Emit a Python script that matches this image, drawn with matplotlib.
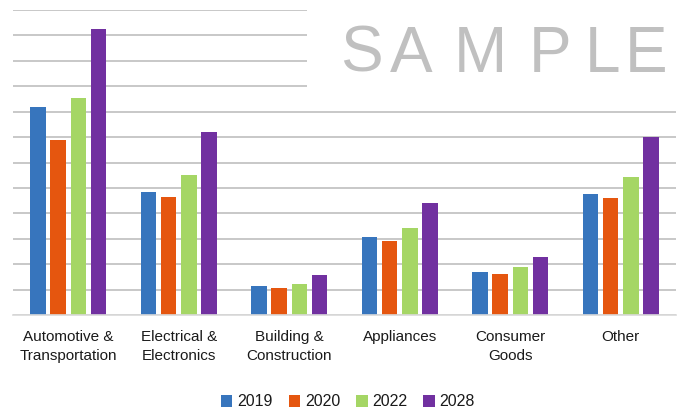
import matplotlib.pyplot as plt
import numpy as np
from matplotlib.patches import Rectangle

plt.rcParams['font.family'] = ['Liberation Sans', 'DejaVu Sans']

categories = ['Automotive &\nTransportation', 'Electrical &\nElectronics', 'Building &\nConstruction',
              'Appliances', 'Consumer\nGoods', 'Other']
years = ['2019', '2020', '2022', '2028']
v2019 = [8.19, 4.82, 1.14, 3.06, 1.69, 4.76]
v2020 = [6.89, 4.65, 1.06, 2.93, 1.61, 4.61]
v2022 = [8.52, 5.51, 1.23, 3.43, 1.88, 5.41]
v2028 = [11.26, 7.20, 1.57, 4.40, 2.27, 7.02]
colors = ['#3775BD', '#E5560F', '#A5D665', '#7130A0']

W, H = 680, 409
fig = plt.figure(figsize=(6.8, 4.09), dpi=100)
ax = fig.add_axes([13 / W, 1 - 315 / H, (676 - 13) / W, (315 - 10) / H])

x = np.arange(len(categories))
pitch = 0.183
for i, (vals, c) in enumerate(zip([v2019, v2020, v2022, v2028], colors)):
    ax.bar(x + (i - 1.5) * pitch, vals, width=0.139, color=c, label=years[i], zorder=3)

ax.set_xlim(-0.5, 5.5)
ax.set_ylim(0, 12)
ax.set_yticks(np.arange(0, 13, 1))
ax.yaxis.grid(True, color='#BFBFBF', linewidth=1.2, zorder=0)
ax.set_axisbelow(True)
ax.tick_params(axis='y', left=False, labelleft=False)
ax.tick_params(axis='x', length=0, pad=11, labelsize=11, labelcolor='#1a1a1a')
ax.set_xticks(x)
ax.set_xticklabels(categories, linespacing=1.4)
for s in ['left', 'right', 'top']:
    ax.spines[s].set_visible(False)
ax.spines['bottom'].set_color('#D9D9D9')
ax.spines['bottom'].set_linewidth(1.2)
ax.spines['bottom'].set_zorder(4)

# watermark box and letters
fig.patches.append(Rectangle((307 / W, 1 - 98 / H), (W - 307) / W, 98 / H,
                             transform=fig.transFigure, facecolor='white', edgecolor='none', zorder=5))
letters = ['S', 'A', 'M', 'P', 'L', 'E']
letter_cx = [361, 411, 480, 550, 603, 646]
for ch, lx in zip(letters, letter_cx):
    fig.text(lx / W, 1 - 72 / H, ch, fontsize=46, color='#C0C0C0', ha='center', va='baseline', zorder=6)

fig.legend(loc='center', bbox_to_anchor=(348 / W, 1 - 402 / H), ncol=4, frameon=False,
           fontsize=11.5, handlelength=0.72, handleheight=0.72, handletextpad=0.3,
           columnspacing=1.0, labelcolor='#1a1a1a')

fig.savefig('out.png', dpi=100)
